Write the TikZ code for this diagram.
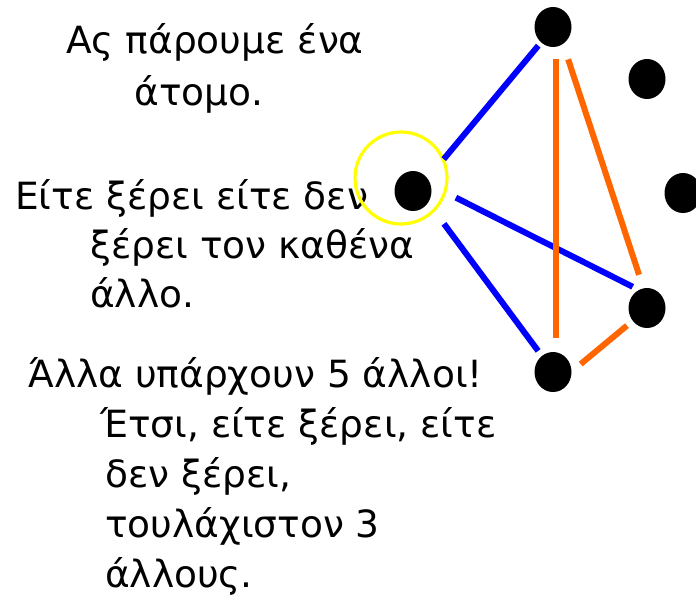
\documentclass[tikz,border=0pt]{standalone}
\usepackage{fontspec}
\setmainfont{DejaVu Sans}
\usetikzlibrary{shapes.geometric,calc}
\definecolor{linkblue}{RGB}{0,0,255}
\definecolor{linkorange}{RGB}{255,102,0}
\definecolor{ringyellow}{RGB}{255,255,0}
\begin{document}
\begin{tikzpicture}[x=1pt,y=-1pt,
  person/.style={ellipse, fill=black, inner sep=0pt, minimum width=37pt, minimum height=40pt},
  knows/.style={draw=linkblue, line width=6pt},
  strangers/.style={draw=linkorange, line width=6pt},
  ring/.style={circle, draw=ringyellow, line width=3.2pt, inner sep=0pt, minimum size=92pt},
  txt/.style={anchor=base west, inner sep=0pt, font=\fontsize{37.5}{45}\selectfont},
  ctxt/.style={txt, anchor=base},
]
\useasboundingbox (0,0) rectangle (696,597);

% explanatory text
\node[ctxt] (t1) at (215,53) {Ας πάρουμε ένα};
\node[ctxt] (t2) at (199,105) {άτομο.};
\node[txt] (t3) at (15,209) {Είτε ξέρει είτε δεν};
\node[txt] (t4) at (90,258) {ξέρει τον καθένα};
\node[txt] (t5) at (90,307) {άλλο.};
\node[txt] (t6) at (28,387) {Άλλα υπάρχουν 5 άλλοι!};
\node[txt] (t7) at (100,437) {Έτσι, είτε ξέρει, είτε};
\node[txt] (t8) at (105,487) {δεν ξέρει,};
\node[txt] (t9) at (105,537) {τουλάχιστον 3};
\node[txt] (t10) at (105,587) {άλλους.};

% the six people
\node[person] (me) at (413,191) {};
\node[person] (top) at (553,27) {};
\node[person] (upright) at (647,79) {};
\node[person] (midright) at (683,193) {};
\node[person] (lowright) at (647,308) {};
\node[person] (bottom) at (553,372) {};

% highlight on the chosen person
\node[ring] (sel) at (401,178) {};

% acquaintances (blue)
\draw[knows, shorten <=48pt, shorten >=23pt] ($(me)+(0,5)$) -- ($(top)+(0,1)$);
\draw[knows, shorten <=48pt, shorten >=16pt] ($(me)+(0,-15)$) -- ($(lowright)+(0,-14)$);
\draw[knows, shorten <=52pt, shorten >=25pt] ($(me)+(0,-9)$) -- ($(bottom)+(0,-1)$);

% strangers (orange)
\draw[strangers, shorten <=32pt, shorten >=34pt] ($(top)+(3,0)$) -- ($(bottom)+(3,0)$);
\draw[strangers, shorten <=34pt, shorten >=35pt] ($(top)+(4.5,0)$) -- ($(lowright)+(3,0)$);
\draw[strangers, shorten <=36pt, shorten >=26pt] ($(bottom)+(0,15)$) -- ($(lowright)+(0,1)$);
\end{tikzpicture}
\end{document}
